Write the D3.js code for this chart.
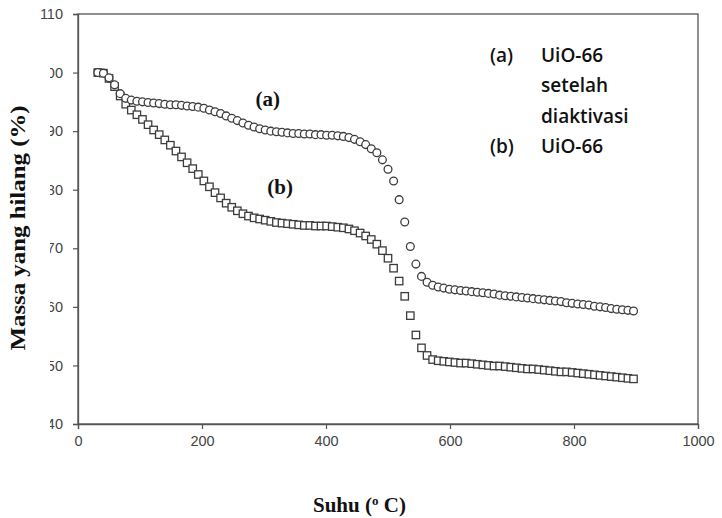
<!DOCTYPE html>
<html>
<head>
<meta charset="utf-8">
<script src="https://cdn.jsdelivr.net/npm/d3@7"></script>
<style>
  html, body { margin: 0; padding: 0; background: #fff; }
  svg { display: block; }
</style>
</head>
<body>
<div id="wrapper"></div>
<script>
// Temperature (°C) of each recorded point
const suhu = [32, 41, 50, 59, 68, 77, 86, 95, 104, 113, 122, 131, 140, 149, 158, 167, 176, 185, 194, 203,
  212, 221, 230, 239, 248, 257, 266, 275, 284, 293, 302, 311, 320, 329, 338, 347, 356, 365, 374, 383,
  392, 401, 410, 419, 428, 437, 446, 455, 464, 473, 482, 491, 500, 509, 518, 527, 536, 545, 554, 563,
  572, 581, 590, 599, 608, 617, 626, 635, 644, 653, 662, 671, 680, 689, 698, 707, 716, 725, 734, 743,
  752, 761, 770, 779, 788, 797, 806, 815, 824, 833, 842, 851, 860, 869, 878, 887, 896];

// (a) UiO-66 setelah diaktivasi  (circles)
const massaA = [100.0, 99.9, 99.1, 97.9, 96.4, 95.6, 95.3, 95.1, 95.0, 94.9, 94.8, 94.7, 94.6, 94.5, 94.5, 94.4, 94.3, 94.2, 94.1, 93.9,
  93.6, 93.3, 93.0, 92.6, 92.2, 91.8, 91.4, 91.0, 90.7, 90.4, 90.2, 90.0, 89.9, 89.8, 89.7, 89.6, 89.6, 89.5, 89.5, 89.4,
  89.4, 89.3, 89.3, 89.2, 89.1, 88.9, 88.6, 88.2, 87.7, 87.0, 86.3, 85.1, 83.5, 81.5, 78.3, 74.5, 70.3, 67.3, 65.2, 64.2,
  63.7, 63.4, 63.2, 63.0, 62.9, 62.8, 62.7, 62.6, 62.5, 62.4, 62.3, 62.2, 62.0, 61.9, 61.8, 61.7, 61.6, 61.5, 61.4, 61.3,
  61.2, 61.1, 61.0, 60.9, 60.7, 60.6, 60.5, 60.4, 60.3, 60.1, 60.0, 59.9, 59.7, 59.6, 59.5, 59.4, 59.3];

// (b) UiO-66  (squares)
const massaB = [100.0, 99.9, 99.0, 97.6, 96.0, 94.6, 93.6, 92.8, 92.0, 91.1, 90.2, 89.4, 88.5, 87.6, 86.6, 85.6, 84.6, 83.6, 82.6, 81.5,
  80.5, 79.5, 78.6, 77.7, 77.0, 76.4, 75.9, 75.5, 75.2, 75.0, 74.8, 74.6, 74.4, 74.3, 74.2, 74.1, 74.0, 73.9, 73.9, 73.8,
  73.8, 73.8, 73.7, 73.6, 73.5, 73.3, 73.0, 72.6, 72.1, 71.5, 70.7, 69.6, 68.3, 66.6, 64.4, 61.8, 58.5, 55.2, 53.0, 51.7,
  51.0, 50.8, 50.7, 50.6, 50.5, 50.4, 50.4, 50.3, 50.2, 50.1, 50.0, 49.9, 49.9, 49.8, 49.7, 49.6, 49.5, 49.4, 49.4, 49.3,
  49.2, 49.1, 49.0, 48.9, 48.9, 48.8, 48.7, 48.6, 48.5, 48.4, 48.3, 48.2, 48.1, 48.0, 47.9, 47.8, 47.7];

const xTicks = [0, 200, 400, 600, 800, 1000];
const yTicks = [40, 50, 60, 70, 80, 90, 100, 110];

const legendLines = [
  { key: "(a)", text: "UiO-66" },
  { key: "", text: "setelah" },
  { key: "", text: "diaktivasi" },
  { key: "(b)", text: "UiO-66" },
];

const drawChart = () => {
  const seriesA = suhu.map((t, i) => ({ t, m: massaA[i] }));
  const seriesB = suhu.map((t, i) => ({ t, m: massaB[i] }));

  let dimensions = {
    width: 722,
    height: 518,
    margins: { top: 14, right: 24, bottom: 94, left: 78 },
  };
  dimensions.boundedWidth = dimensions.width - dimensions.margins.left - dimensions.margins.right;
  dimensions.boundedHeight = dimensions.height - dimensions.margins.top - dimensions.margins.bottom;

  const wrapper = d3.select("#wrapper")
    .append("svg")
      .attr("width", dimensions.width)
      .attr("height", dimensions.height);

  const bounds = wrapper.append("g")
    .attr("transform", `translate(${dimensions.margins.left},${dimensions.margins.top})`);

  const xScale = d3.scaleLinear()
    .domain([0, 1000])
    .range([0, dimensions.boundedWidth]);
  const yScale = d3.scaleLinear()
    .domain([40, 110])
    .range([dimensions.boundedHeight, 0]);

  const axisColor = "#555";
  const labelColor = "#444";

  // frame (top + right)
  bounds.append("rect")
    .attr("width", dimensions.boundedWidth)
    .attr("height", dimensions.boundedHeight)
    .attr("fill", "none")
    .attr("stroke", axisColor)
    .attr("stroke-width", 1.3);

  const xAxis = bounds.append("g")
    .attr("transform", `translate(0,${dimensions.boundedHeight})`)
    .call(d3.axisBottom(xScale).tickValues(xTicks).tickFormat(d3.format("d")).tickSize(5).tickPadding(7));
  const yAxis = bounds.append("g")
    .call(d3.axisLeft(yScale).tickValues(yTicks).tickFormat(d3.format("d")).tickSize(5).tickPadding(10));

  [xAxis, yAxis].forEach(ax => {
    ax.select(".domain").attr("stroke", axisColor).attr("stroke-width", 1.3);
    ax.selectAll(".tick line").attr("stroke", axisColor).attr("stroke-width", 1.2);
    ax.selectAll(".tick text")
      .attr("fill", labelColor)
      .style("font-family", "'Liberation Sans', Arial, sans-serif")
      .style("font-size", "14.5px");
  });

  // the y tick labels are partly hidden behind the axis title
  wrapper.append("rect")
    .attr("x", 0).attr("y", 58)
    .attr("width", 50).attr("height", 378)
    .attr("fill", "#fff");

  // series (b) squares
  const sq = 7.4;
  bounds.append("g").selectAll("rect")
    .data(seriesB)
    .join("rect")
      .attr("x", d => xScale(d.t) - sq / 2)
      .attr("y", d => yScale(d.m) - sq / 2)
      .attr("width", sq)
      .attr("height", sq)
      .attr("fill", "#fff")
      .attr("stroke", "#3c3c3c")
      .attr("stroke-width", 1.3);

  // series (a) circles
  bounds.append("g").selectAll("circle")
    .data(seriesA)
    .join("circle")
      .attr("cx", d => xScale(d.t))
      .attr("cy", d => yScale(d.m))
      .attr("r", 3.9)
      .attr("fill", "#fff")
      .attr("stroke", "#3c3c3c")
      .attr("stroke-width", 1.3);

  // in-plot labels
  const serif = "'Liberation Serif', 'Times New Roman', serif";
  bounds.append("text")
    .attr("x", xScale(306)).attr("y", yScale(94.3))
    .attr("text-anchor", "middle")
    .style("font-family", serif).style("font-weight", "bold").style("font-size", "21px")
    .attr("fill", "#111")
    .text("(a)");
  bounds.append("text")
    .attr("x", xScale(326)).attr("y", yScale(79.3))
    .attr("text-anchor", "middle")
    .style("font-family", serif).style("font-weight", "bold").style("font-size", "21px")
    .attr("fill", "#111")
    .text("(b)");

  // axis titles
  wrapper.append("text")
    .attr("transform", "translate(25,228) rotate(-90)")
    .attr("text-anchor", "middle")
    .attr("textLength", 245)
    .attr("lengthAdjust", "spacingAndGlyphs")
    .style("font-family", serif).style("font-weight", "bold").style("font-size", "21px")
    .attr("fill", "#111")
    .text("Massa yang hilang (%)");

  const xTitle = wrapper.append("text")
    .attr("x", 313).attr("y", 512)
    .style("font-family", serif).style("font-weight", "bold").style("font-size", "21px")
    .attr("fill", "#111");
  xTitle.append("tspan").text("Suhu (");
  xTitle.append("tspan").attr("dy", -7).style("font-size", "13px").text("o");
  xTitle.append("tspan").attr("dy", 7).text(" C)");

  // legend
  const legend = wrapper.append("g")
    .style("font-family", "'Open Sans', sans-serif")
    .style("font-weight", 600)
    .style("font-size", "19px")
    .attr("fill", "#111");
  legendLines.forEach((l, i) => {
    const y = 62 + i * 30.3;
    legend.append("text").attr("x", 490).attr("y", y).text(l.key);
    legend.append("text").attr("x", 541).attr("y", y).text(l.text);
  });
};

drawChart();
</script>
</body>
</html>
